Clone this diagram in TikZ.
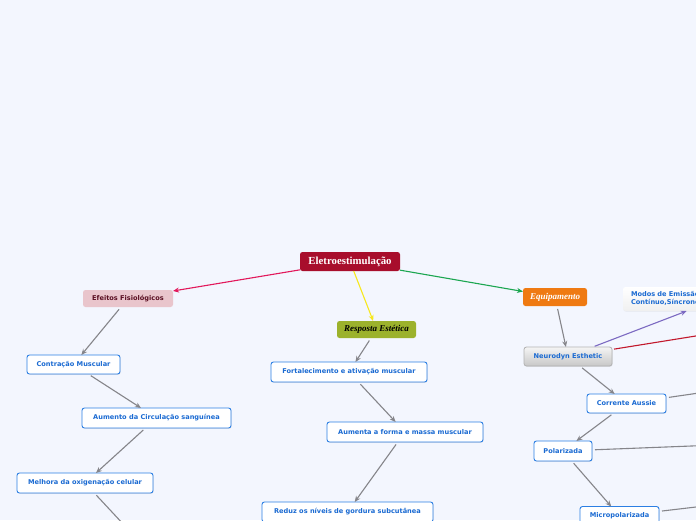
\documentclass[tikz,border=0pt]{standalone}
\usepackage{fontspec}
\setmainfont{Liberation Serif}
\newfontfamily\vsans{DejaVu Sans}
\usetikzlibrary{arrows.meta,shadows}
\definecolor{bg}{HTML}{F3F6FE}
\definecolor{bluebd}{HTML}{2C7FE3}
\definecolor{bluetx}{HTML}{1A6AD2}
\definecolor{edgegray}{HTML}{85858A}
\definecolor{rootred}{HTML}{A80E2C}
\definecolor{pinkfill}{HTML}{E9C5CC}
\definecolor{maroon}{HTML}{5A0F22}
\definecolor{olive}{HTML}{9CB22C}
\definecolor{orangef}{HTML}{EF7A12}
\definecolor{crimson}{HTML}{E2195C}
\definecolor{yel}{HTML}{F7E81E}
\definecolor{grn}{HTML}{1BA650}
\definecolor{purp}{HTML}{7C6AC2}
\definecolor{redl}{HTML}{C2182C}
\tikzset{
  every node/.style={inner sep=0pt, outer sep=0pt},
  leaf/.style={draw=bluebd, line width=0.9pt, fill=white, rounded corners=2.5pt,
    text=bluetx, font=\vsans\bfseries\fontsize{6.6}{7.5}\selectfont,
    drop shadow={opacity=0.18, shadow xshift=0.6pt, shadow yshift=-0.8pt}},
  rootbox/.style={fill=rootred, rounded corners=2.5pt, text=white,
    font=\bfseries\fontsize{10.8}{12}\selectfont},
  mainbox/.style={rounded corners=2.5pt, minimum height=17pt},
  gedge/.style={draw=edgegray, line width=1.1pt, shorten <=3pt,
    -{Stealth[length=6pt,width=5pt]}},
  gline/.style={draw=edgegray, line width=1.1pt, shorten <=3pt},
  cedge/.style={line width=1.1pt, -{Stealth[length=6pt,width=5pt]}},
}
\begin{document}
\begin{tikzpicture}[x=1pt,y=-1pt]
\useasboundingbox (0,0) rectangle (696,520);
\fill[bg] (0,0) rectangle (696,520);
\clip (0,0) rectangle (696,520);

% root
\node[rootbox, minimum width=100pt, minimum height=19pt] (eletro) at (350,261.5) {Eletroestimulação};

% main branches
\node[mainbox, fill=pinkfill, text=maroon, minimum width=90pt,
  font=\vsans\bfseries\fontsize{6.6}{7.5}\selectfont] (efeitos) at (128,298.5) {Efeitos Fisiológicos};
\node[mainbox, fill=olive, text=black, minimum width=79pt,
  font=\bfseries\itshape\fontsize{9}{10}\selectfont] (resp) at (376.5,329.5) {Resposta Estética};
\node[mainbox, fill=orangef, text=white, minimum width=64pt, minimum height=18pt,
  font=\bfseries\itshape\fontsize{9}{10}\selectfont] (equip) at (555,297) {Equipamento};

% left branch
\node[leaf, minimum width=93pt, minimum height=19pt] (contr) at (73.5,364.5) {Contração Muscular};
\node[leaf, minimum width=149pt, minimum height=20pt] (aum) at (156.5,418) {Aumento da Circulação sanguínea};
\node[leaf, minimum width=136pt, minimum height=20pt] (melh) at (85,483) {Melhora da oxigenação celular};
\coordinate (melhend) at (125,526);

% middle branch
\node[leaf, minimum width=156pt, minimum height=20pt] (fort) at (349,372) {Fortalecimento e ativação muscular};
\node[leaf, minimum width=156pt, minimum height=20pt] (aumf) at (405,432) {Aumenta a forma e massa muscular};
\node[leaf, minimum width=171pt, minimum height=20pt] (reduz) at (347.5,512) {Reduz os níveis de gordura subcutânea};

% right branch
\node[draw=black!30, line width=0.8pt, rounded corners=2.5pt, top color=black!4, bottom color=black!22,
  text=bluetx, font=\vsans\bfseries\fontsize{6.6}{7.5}\selectfont,
  minimum width=88pt, minimum height=19pt,
  drop shadow={opacity=0.18, shadow xshift=0.6pt, shadow yshift=-0.8pt}] (neuro) at (568,356.5) {Neurodyn Esthetic};
\node[rounded corners=2.5pt, top color=white, bottom color=black!6,
  text=bluetx, font=\vsans\bfseries\fontsize{6.6}{8}\selectfont,
  minimum width=190pt, minimum height=24pt, text width=174pt, align=left,
  drop shadow={opacity=0.08, shadow xshift=0.6pt, shadow yshift=-0.8pt}] (modos) at (718,299)
  {Modos de Emissão:\\Contínuo,Síncrono,Recíproco};
\coordinate (redend) at (730,330.5);
\node[leaf, minimum width=79pt, minimum height=19pt] (corr) at (626.5,403.5) {Corrente Aussie};
\coordinate (corrend) at (730,388.5);
\node[leaf, minimum width=58pt, minimum height=20pt] (polar) at (563,451) {Polarizada};
\coordinate (polarend) at (730,444.5);
\node[leaf, minimum width=79pt, minimum height=19pt] (micro) at (619.5,516) {Micropolarizada};
\coordinate (microend) at (730,503);

% colored connectors
\draw[cedge, crimson] (eletro) -- (efeitos);
\draw[cedge, yel] (eletro) -- (resp);
\draw[cedge, grn] (eletro) -- (equip);
\draw[cedge, purp, shorten <=2pt] (neuro) -- (modos);
\draw[line width=1.1pt, redl, shorten <=2pt] (neuro) -- (redend);

% gray connectors
\draw[gedge] (efeitos) -- (contr);
\draw[gedge] (contr) -- (aum);
\draw[gedge] (aum) -- (melh);
\draw[gline] (melh) -- (melhend);
\draw[gedge] (resp) -- (fort);
\draw[gedge] (fort) -- (aumf);
\draw[gedge] (aumf) -- (reduz);
\draw[gedge] (equip) -- (neuro);
\draw[gedge] (neuro) -- (corr);
\draw[gline] (corr) -- (corrend);
\draw[gedge] (corr) -- (polar);
\draw[gline] (polar) -- (polarend);
\draw[gedge] (polar) -- (micro);
\draw[gline] (micro) -- (microend);
\end{tikzpicture}
\end{document}
